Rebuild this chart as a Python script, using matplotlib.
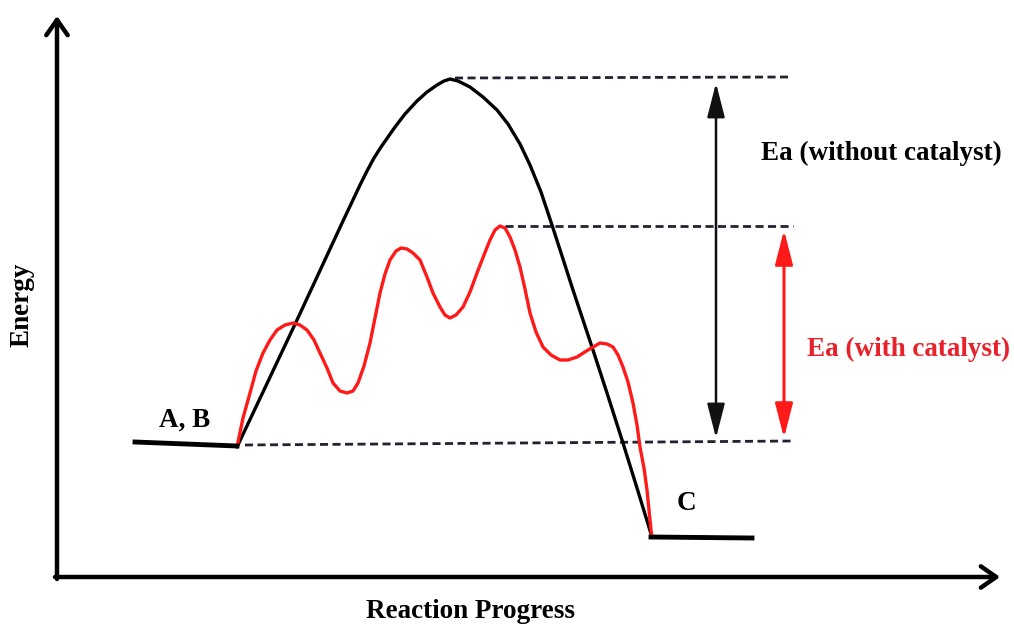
import matplotlib.pyplot as plt

# curve points (pixel coords, y grows downward)
uncat_x = [237, 263, 297, 317, 330, 343, 352, 360, 367, 374, 381, 388, 395, 405, 417, 427, 437, 444, 450, 458, 470,
           483, 497, 508, 520, 530, 541, 552, 563, 573, 583, 592, 607, 623, 637, 652]
uncat_y = [447, 392, 320, 277, 249, 221, 202, 185, 171, 158, 147, 137, 127, 114, 101, 92, 85, 81, 79, 81, 87,
           97, 110, 124, 144, 165, 192, 225, 259, 290, 320, 347, 393, 443, 488, 537]

cat_x = [237, 243, 250, 256, 263, 270, 277, 285, 293, 300, 307, 314, 320, 327, 333, 340, 347, 353, 358, 364,
         370, 375, 380, 385, 390, 396, 401, 407, 413, 420, 427, 433, 440, 445, 450, 456, 463, 470, 477, 484,
         490, 495, 500, 505, 510, 515, 520, 525, 530, 536, 543, 551, 560, 568, 577, 588, 600, 607, 613, 618,
         623, 628, 633, 637, 640, 644, 647, 649, 651, 652]
cat_y = [447, 418, 393, 371, 353, 340, 330, 325, 323, 325, 330, 340, 353, 368, 383, 391, 393, 391, 383, 366,
         343, 318, 293, 274, 260, 251, 248, 249, 253, 260, 277, 293, 307, 315, 318, 315, 307, 292, 273, 255,
         240, 230, 226, 228, 237, 250, 267, 289, 313, 332, 347, 355, 360, 360, 357, 350, 343, 344, 347, 355,
         367, 382, 403, 425, 447, 468, 490, 510, 530, 537]

reactant_x = [135, 237]
reactant_y = [442, 446]
product_x = [651, 752]
product_y = [537, 538]

# energy levels
peak_uncat = 78
peak_cat = 226
start_level = 442

RED = '#ff1a1a'
TXT_RED = '#e8222a'

plt.rcParams['font.family'] = ['Liberation Serif', 'DejaVu Serif']

fig = plt.figure(figsize=(10.14, 6.28), dpi=100)
ax = fig.add_axes([0, 0, 1, 1])
ax.set_xlim(0, 1014)
ax.set_ylim(628, 0)
ax.axis('off')

# axes with arrows
head = dict(arrowstyle='->,head_length=0.5,head_width=0.35', lw=3.2, color='black',
            mutation_scale=22, shrinkA=0, shrinkB=0, capstyle='round')
ax.annotate('', xy=(57, 16), xytext=(57, 579), arrowprops=head)
ax.annotate('', xy=(1000, 577), xytext=(55, 577), arrowprops=head)

# dashed guide lines
dash = dict(color='#222233', lw=2.0, dashes=(2.9, 1.6))
ax.plot([455, 790], [peak_uncat, peak_uncat - 1], **dash)
ax.plot([505, 793], [peak_cat, peak_cat], **dash)
ax.plot([245, 793], [start_level + 3, start_level - 1], **dash)

# curves
ax.plot(uncat_x, uncat_y, color='black', lw=2.4, solid_capstyle='round', solid_joinstyle='round')
ax.plot(cat_x, cat_y, color=RED, lw=2.4, solid_capstyle='round', solid_joinstyle='round')
ax.plot(reactant_x, reactant_y, color='black', lw=3.5)
ax.plot(product_x, product_y, color='black', lw=3.5)

# activation energy arrows
ax.annotate('', xy=(716, 83), xytext=(716, 438),
            arrowprops=dict(arrowstyle='<|-|>,head_length=1.05,head_width=0.27', lw=1.8,
                            color='#111111', mutation_scale=20, shrinkA=0, shrinkB=0))
ax.annotate('', xy=(784, 230), xytext=(784, 438),
            arrowprops=dict(arrowstyle='<|-|>,head_length=1.05,head_width=0.27', lw=2.2,
                            color=RED, mutation_scale=20, shrinkA=0, shrinkB=0))

# labels
fs = 19.5
ax.text(881, 153, 'Ea (without catalyst)', ha='center', va='center', fontsize=fs, fontweight='bold')
ax.text(909, 349, 'Ea (with catalyst)', ha='center', va='center', fontsize=fs, fontweight='bold',
        color=TXT_RED)
ax.text(185, 420, 'A, B', ha='center', va='center', fontsize=fs, fontweight='bold')
ax.text(686, 503, 'C', ha='center', va='center', fontsize=fs, fontweight='bold')
ax.text(22, 305, 'Energy', ha='center', va='center', rotation=90, fontsize=fs, fontweight='bold')
ax.text(470, 612, 'Reaction Progress', ha='center', va='center', fontsize=fs, fontweight='bold')

plt.savefig('out.png', dpi=100)
